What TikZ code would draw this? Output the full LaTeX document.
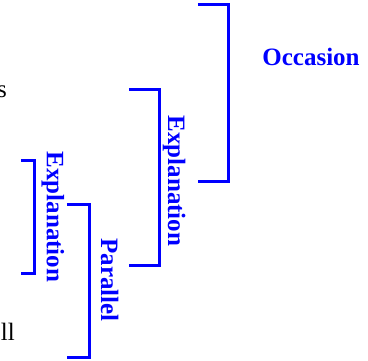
\documentclass[tikz,border=0pt]{standalone}
\usepackage{fontspec}
\setmainfont{Liberation Serif}
\begin{document}
\begin{tikzpicture}[x=1pt,y=-1pt,
  relcol/.style={color={rgb,255:red,0;green,0;blue,255}},
  bracket/.style={draw, relcol, line width=3pt, miter limit=10},
  rellabel/.style={relcol, font=\fontsize{25}{30}\selectfont\bfseries, inner sep=0pt},
  plain/.style={font=\fontsize{25}{30}\selectfont, inner sep=0pt}]
\useasboundingbox (0,0) rectangle (368,360);

% span of the Occasion relation
\coordinate (occTop) at (198,4);
\coordinate (occBot) at (198,181);
\draw[bracket] (occTop) -- (229,4) -- (229,181) -- (occBot);
\node[rellabel, anchor=base] (occ) at (311,65) {Occasion};

% outer Explanation relation
\coordinate (expATop) at (129,89);
\coordinate (expABot) at (129,265);
\draw[bracket] (expATop) -- (159.5,89) -- (159.5,265) -- (expABot);
\node[rellabel, rotate=-90, anchor=base] (expA) at (168,181) {Explanation};

% inner Explanation relation
\coordinate (expBTop) at (21,160);
\coordinate (expBBot) at (21,273);
\draw[bracket] (expBTop) -- (35,160) -- (35,273) -- (expBBot);
\node[rellabel, rotate=-90, anchor=base] (expB) at (47,217) {Explanation};

% Parallel relation
\coordinate (parTop) at (67,204);
\coordinate (parBot) at (67,357.5);
\draw[bracket] (parTop) -- (90,204) -- (90,357.5) -- (parBot);
\node[rellabel, rotate=-90, anchor=base] (par) at (101,280) {Parallel};

% ends of the text segments
\node[plain, anchor=base east] (segA) at (7,97) {s};
\node[plain, anchor=base east] (segB) at (15,340) {ll};
\end{tikzpicture}
\end{document}
